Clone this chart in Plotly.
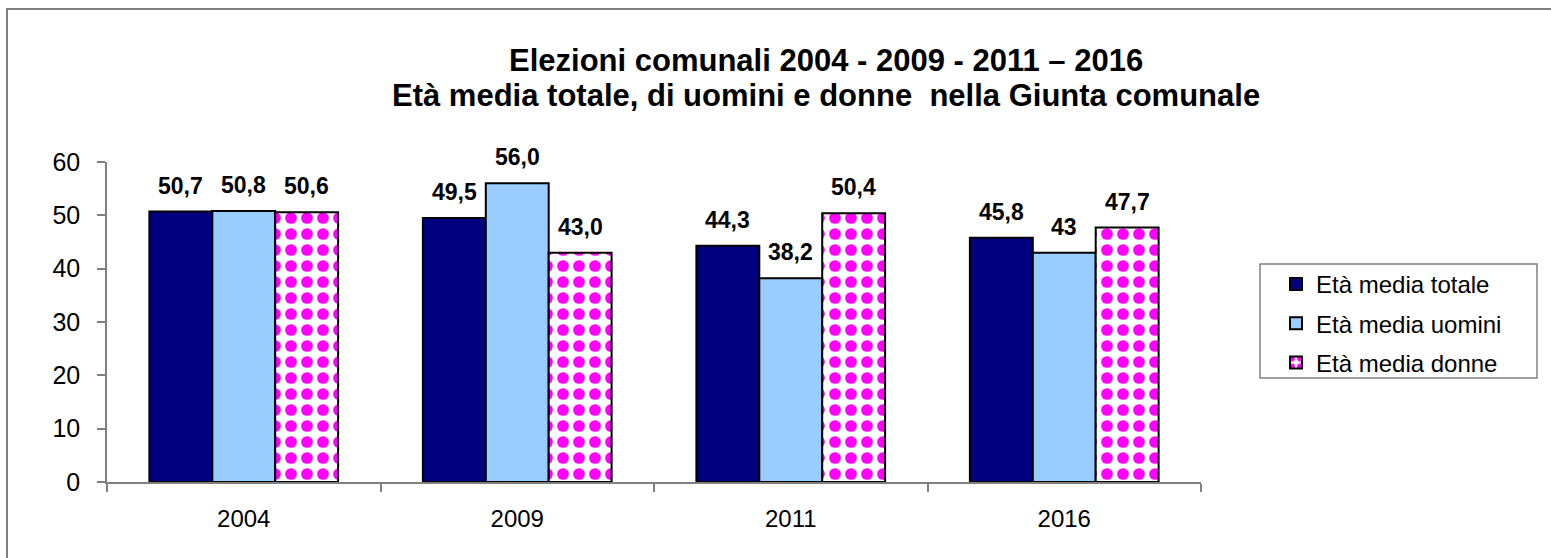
import plotly.graph_objects as go

categories = ["2004", "2009", "2011", "2016"]
series_names = ["Età media totale", "Età media uomini", "Età media donne"]
totale = [50.7, 49.5, 44.3, 45.8]
uomini = [50.8, 56.0, 38.2, 43.0]
donne = [50.6, 43.0, 50.4, 47.7]
totale_labels = ["50,7", "49,5", "44,3", "45,8"]
uomini_labels = ["50,8", "56,0", "38,2", "43"]
donne_labels = ["50,6", "43,0", "50,4", "47,7"]
title_lines = ["Elezioni comunali 2004 - 2009 - 2011 – 2016",
               "Età media totale, di uomini e donne  nella Giunta comunale"]

FONT = "Liberation Sans, Arial, sans-serif"

W, H = 1551, 558
ML, MR, MT, MB = 107, 350, 162, 76
PW = W - ML - MR
PH = H - MT - MB
BARGAP = 0.31

def px_x(p):
    return (p - ML) / PW

def px_y(p):
    return (H - MB - p) / PH

fig = go.Figure()
fig.add_trace(go.Bar(
    x=categories, y=totale, name=series_names[0], legendgroup="a",
    marker=dict(color="#000080", line=dict(color="black", width=2)),
))
fig.add_trace(go.Bar(
    x=categories, y=uomini, name=series_names[1], legendgroup="b",
    marker=dict(color="#99CCFF", line=dict(color="black", width=2)),
))
fig.add_trace(go.Bar(
    x=categories, y=donne, name=series_names[2], legendgroup="c",
    marker=dict(color="white", line=dict(color="black", width=2),
                pattern=dict(shape=".", fgcolor="#FF00FF", bgcolor="white",
                             fgopacity=1, size=16, solidity=0.42, fillmode="replace")),
))

# data labels, placed through the axis scales (category index) with a pixel offset per series
cat_px = PW / len(categories)
bar_px = cat_px * (1 - BARGAP) / 3
for i, (vals, labs) in enumerate([(totale, totale_labels), (uomini, uomini_labels), (donne, donne_labels)]):
    for j, (v, t) in enumerate(zip(vals, labs)):
        fig.add_annotation(
            x=j, y=v, xref="x", yref="y", text="<b>" + t + "</b>",
            showarrow=False, xanchor="center", yanchor="middle",
            xshift=(i - 1) * bar_px, yshift=26,
            font=dict(family=FONT, size=23, color="black"),
        )

# title (two lines with the reference's line spacing)
for k, line in enumerate(title_lines):
    fig.add_annotation(
        x=px_x(826), y=px_y(61 + k * 35), xref="paper", yref="paper",
        text="<b>" + line + "</b>", showarrow=False,
        xanchor="center", yanchor="middle",
        font=dict(family=FONT, size=31, color="black"),
    )

fig.update_layout(
    width=W, height=H,
    paper_bgcolor="white", plot_bgcolor="white",
    margin=dict(l=ML, r=MR, t=MT, b=MB),
    barmode="group", bargap=BARGAP, bargroupgap=0,
    font=dict(family=FONT, size=24, color="black"),
    legend=dict(
        x=px_x(1276), y=px_y(262), xanchor="left", yanchor="top",
        borderwidth=0, bgcolor="rgba(0,0,0,0)",
        font=dict(family=FONT, size=24, color="black"),
        tracegroupgap=5, traceorder="grouped",
    ),
    showlegend=True,
)

fig.update_yaxes(
    range=[0, 60], dtick=10, showgrid=False, zeroline=False,
    showline=True, linecolor="#808080", linewidth=1.5,
    ticks="outside", ticklen=8, tickcolor="#808080", tickwidth=1.5,
    ticklabelstandoff=12,
    tickfont=dict(family=FONT, size=25, color="black"),
)
fig.update_xaxes(
    type="category", categoryorder="array", categoryarray=categories,
    range=[-0.5, len(categories) - 0.5], autorange=False,
    showgrid=False, showline=True, linecolor="#808080", linewidth=1.5,
    ticks="outside", ticklen=8, tickcolor="#808080", tickwidth=1.5,
    tickson="boundaries", ticklabelstandoff=14, tickangle=0,
    tickfont=dict(family=FONT, size=24, color="black"),
)

# outer chart frame (top and left edges visible in reference)
fig.add_shape(type="rect", xref="paper", yref="paper",
              x0=px_x(7), x1=px_x(1600), y0=px_y(600), y1=px_y(9),
              line=dict(color="#808080", width=2), layer="below")
# legend box
fig.add_shape(type="rect", xref="paper", yref="paper",
              x0=px_x(1260), x1=px_x(1537), y0=px_y(378), y1=px_y(264),
              line=dict(color="#808080", width=1.5), layer="below")

fig.write_html("out.html", config={"displayModeBar": False},
               post_script="document.body.style.margin='0';document.body.style.overflow='hidden';")
